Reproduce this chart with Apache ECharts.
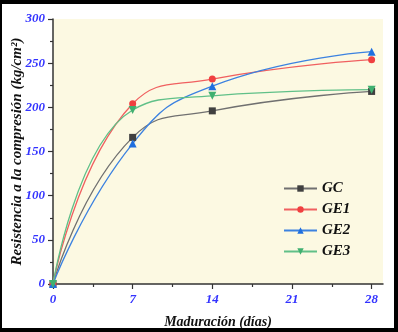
<!DOCTYPE html>
<html><head><meta charset="utf-8">
<script src="https://cdn.jsdelivr.net/npm/echarts@6/dist/echarts.min.js"></script>
<style>html,body{margin:0;padding:0;background:#fff}#c{width:398px;height:332px}</style>
</head><body><div id="c"></div>
<script>
const days = [0, 7, 14, 28];
const seriesNames = ['GC', 'GE1', 'GE2', 'GE3'];
const GC  = [0, 166, 196, 218];
const GE1 = [0, 204, 232, 254];
const GE2 = [0, 159, 224, 263];
const GE3 = [0, 197, 213, 220];
const xTickLabels = [0, 7, 14, 21, 28];
const xMinorTicks = [3.5, 10.5, 17.5, 24.5];

const font = '"Liberation Serif", "DejaVu Serif", serif';
const colors = ['#404040', '#f04040', '#1f6fdf', '#40b070'];
const lineColors = ['#707070', '#f06060', '#3c82e0', '#60c088'];
const symbols = ['rect', 'circle', 'triangle', 'path://M0,0 L10,0 L5,9 Z'];
const sizes = [7, 7, 8, 8];
const vals = [GC, GE1, GE2, GE3];

const chart = echarts.init(document.getElementById('c'));
chart.setOption({
  backgroundColor: '#ffffff',
  animation: false,
  graphic: [
    {type:'rect', shape:{x:0,y:0,width:398,height:4}, style:{fill:'#000'}, z:100},
    {type:'rect', shape:{x:0,y:0,width:2,height:332}, style:{fill:'#000'}, z:100},
    {type:'rect', shape:{x:394,y:0,width:4,height:332}, style:{fill:'#000'}, z:100},
    {type:'rect', shape:{x:0,y:328,width:398,height:4}, style:{fill:'#000'}, z:100}
  ],
  grid: {left: 53, top: 19, right: 15, bottom: 48, outerBoundsMode: 'none', containLabel: false, show: true, backgroundColor: '#fcf9e2', borderWidth: 0},
  legend: {
    orient: 'vertical', left: 278, top: 176, itemWidth: 33, itemHeight: 8, itemGap: 6,
    textStyle: {fontFamily: font, fontStyle: 'italic', fontWeight: 'bold', fontSize: 15, color: '#111'},
    data: seriesNames
  },
  xAxis: [{
    type: 'value', min: 0, max: 29,
    name: 'Maduración (días)', nameLocation: 'middle', nameGap: 31, nameMoveOverlap: false,
    nameTextStyle: {fontFamily: font, fontStyle: 'italic', fontWeight: 'bold', fontSize: 14, color: '#111'},
    axisLine: {show: true, onZero: false, lineStyle: {color: '#333', width: 1.5}},
    axisTick: {show: true, length: 5, customValues: xTickLabels, lineStyle: {color: '#333', width: 1.2}},
    axisLabel: {customValues: xTickLabels, margin: 9, fontFamily: font, fontStyle: 'italic', fontWeight: 'bold', fontSize: 13, color: '#3333ff'},
    splitLine: {show: false}
  }, {
    type: 'value', min: 0, max: 29, position: 'bottom',
    axisLine: {show: false},
    axisTick: {show: true, length: 3, customValues: xMinorTicks, lineStyle: {color: '#333', width: 1.2}},
    axisLabel: {show: false},
    splitLine: {show: false}
  }],
  yAxis: {
    type: 'value', min: 0, max: 300, interval: 50,
    name: 'Resistencia a la compresión (kg/cm²)', nameLocation: 'middle', nameGap: 28, nameMoveOverlap: false,
    nameTextStyle: {fontFamily: font, fontStyle: 'italic', fontWeight: 'bold', fontSize: 15, color: '#111'},
    axisLine: {show: true, lineStyle: {color: '#333', width: 1.5}},
    axisTick: {show: true, length: 5, lineStyle: {color: '#333', width: 1.2}},
    minorTick: {show: true, splitNumber: 2, length: 3, lineStyle: {color: '#333', width: 1.2}},
    axisLabel: {margin: 8, fontFamily: font, fontStyle: 'italic', fontWeight: 'bold', fontSize: 13, color: '#3333ff'},
    splitLine: {show: false}
  },
  series: seriesNames.map((n, i) => ({
    name: n, type: 'line', smooth: 0.5,
    data: days.map((d, j) => [d, vals[i][j]]),
    symbol: symbols[i], symbolSize: sizes[i], showSymbol: true,
    itemStyle: {color: colors[i]},
    lineStyle: {color: lineColors[i], width: 1.3}
  }))
});
</script></body></html>
